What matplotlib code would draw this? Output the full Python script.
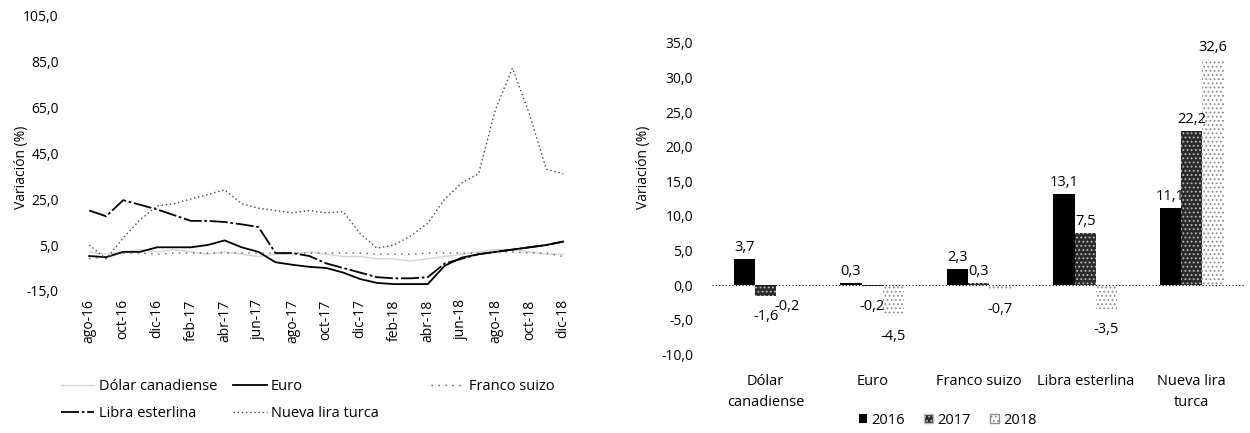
import matplotlib.pyplot as plt
from matplotlib.ticker import FuncFormatter
from matplotlib.patches import Patch

plt.rcParams['font.family'] = ['Open Sans', 'DejaVu Sans']
plt.rcParams['hatch.linewidth'] = 0.8

# --- left panel: monthly variation (%) ---
months = ["ago-16", "sep-16", "oct-16", "nov-16", "dic-16", "ene-17", "feb-17",
          "mar-17", "abr-17", "may-17", "jun-17", "jul-17", "ago-17", "sep-17",
          "oct-17", "nov-17", "dic-17", "ene-18", "feb-18", "mar-18", "abr-18",
          "may-18", "jun-18", "jul-18", "ago-18", "sep-18", "oct-18", "nov-18",
          "dic-18"]
dolar_canadiense = [2, 1, 2, 3, 2, 3, 2, 1, 2, 1, 0, 1, 1, 2, 1, 0, 0, -1, -1,
                    -2, -1, 0, 1, 2, 3, 3, 2, 1, 1]
euro = [0.2, -0.3, 2, 2, 4, 4, 4, 5, 7, 4, 2, -2.5, -3.6, -4.5, -5, -7, -9.8,
        -11.5, -12, -12, -12, -4, -0.5, 1, 2, 3, 4, 5, 6.5]
franco_suizo = [-1, 0, 1.5, 1.5, 1, 1.5, 1.5, 1.5, 1.5, 1.5, 1.5, 1.5, 1.5, 1.5,
                1.5, 1.5, 1.5, 1, 1, 1, 1.5, 1.5, 1.5, 1.5, 2, 2, 1.5, 1.5, 0]
libra_esterlina = [20, 17.5, 24.5, 22.5, 20.5, 18, 15.5, 15.5, 15, 14, 12.8, 1.5,
                   1.5, 0.2, -3, -5, -7, -9, -9.5, -9.5, -9, -3, -1, 1, 2, 3, 4,
                   5, 6.5]
nueva_lira_turca = [5, -1, 8, 16, 22, 23, 25, 27, 29, 23, 21, 20, 19, 20, 19,
                    19.5, 10, 3.6, 5, 9, 14.5, 25, 32, 36, 64, 82, 62, 38, 36]

# --- right panel: annual variation (%) ---
currencies = ["Dólar\ncanadiense", "Euro", "Franco suizo", "Libra esterlina",
              "Nueva lira\nturca"]
years = ["2016", "2017", "2018"]
var_2016 = [3.7, 0.3, 2.3, 13.1, 11.1]
var_2017 = [-1.6, -0.2, 0.3, 7.5, 22.2]
var_2018 = [-0.2, -4.5, -0.7, -3.5, 32.6]

comma = FuncFormatter(lambda v, _: f"{v:.1f}".replace(".", ","))

fig = plt.figure(figsize=(12.5, 4.33), dpi=100)

# left line chart
ax1 = fig.add_axes([0.066, 0.328, 0.39, 0.637])
x = list(range(len(months)))
l_dol, = ax1.plot(x, dolar_canadiense, color="#d4d4d4", lw=1.0)
l_eur, = ax1.plot(x, euro, color="black", lw=1.3)
l_fra, = ax1.plot(x, franco_suizo, color="#555555", lw=1.0, ls=(0, (1, 4)))
l_lib, = ax1.plot(x, libra_esterlina, color="black", lw=1.3,
                  ls=(0, (10, 1.5, 1.5, 1.5)))
l_lir, = ax1.plot(x, nueva_lira_turca, color="#444444", lw=1.0, ls=(0, (1, 2)))
ax1.set_xlim(-0.4, len(months) - 0.6)
ax1.set_ylim(-15, 105)
ax1.set_yticks([-15, 5, 25, 45, 65, 85, 105])
ax1.yaxis.set_major_formatter(comma)
ax1.set_xticks(x[::2])
ax1.set_xticklabels(months[::2], rotation=90, fontsize=10)
ax1.tick_params(axis="y", labelsize=10, length=0, pad=17)
ax1.tick_params(axis="x", length=0, pad=6)
for s in ax1.spines.values():
    s.set_visible(False)
ax1.set_ylabel("Variación (%)", fontsize=10)
ax1.yaxis.set_label_coords(-0.11, 0.45)

leg_kw = dict(loc="upper left", bbox_transform=fig.transFigure, frameon=False,
              fontsize=10.5, handlelength=2.3, handletextpad=0.3,
              labelspacing=0.8)
leg1 = fig.legend([l_dol, l_lib, l_eur, l_lir],
                  ["Dólar canadiense", "Libra esterlina", "Euro",
                   "Nueva lira turca"],
                  ncol=2, bbox_to_anchor=(0.038, 0.155), columnspacing=1.1,
                  **leg_kw)
fig.legend([l_fra], ["Franco suizo"], bbox_to_anchor=(0.334, 0.155), **leg_kw)

# right bar chart
ax2 = fig.add_axes([0.570, 0.182, 0.426, 0.719])
pos = list(range(len(currencies)))
w = 0.2
b16 = ax2.bar([p - w for p in pos], var_2016, w, color="black", lw=0)
b17 = ax2.bar(pos, var_2017, w, color="#2a2a2a", edgecolor="#bbbbbb",
              hatch="....", lw=0)
b18 = ax2.bar([p + w for p in pos], var_2018, w, color="white",
              edgecolor="#8a8a8a", hatch="....", lw=0)
for bars, vals in ((b16, var_2016), (b17, var_2017), (b18, var_2018)):
    for bar, v in zip(bars, vals):
        xc = bar.get_x() + bar.get_width() / 2
        ax2.annotate(f"{v:.1f}".replace(".", ","), (xc, v),
                     xytext=(0, 3 if v >= 0 else -9), textcoords="offset points",
                     ha="center", va="bottom" if v >= 0 else "top", fontsize=10.5)
ax2.axhline(0, color="black", lw=0.8, ls=(0, (1, 2)))
ax2.set_xlim(-0.5, len(currencies) - 0.5)
ax2.set_ylim(-10, 35)
ax2.set_yticks(range(-10, 40, 5))
ax2.yaxis.set_major_formatter(comma)
ax2.set_xticks(pos)
ax2.set_xticklabels(currencies, fontsize=10.5, linespacing=1.6)
ax2.tick_params(axis="y", labelsize=10, length=0, pad=14)
ax2.tick_params(axis="x", length=0, pad=14)
for s in ax2.spines.values():
    s.set_visible(False)
ax2.set_ylabel("Variación (%)", fontsize=10)
ax2.yaxis.set_label_coords(-0.115, 0.6)
fig.legend([Patch(facecolor="black"),
            Patch(facecolor="#2a2a2a", edgecolor="#bbbbbb", hatch="...."),
            Patch(facecolor="white", edgecolor="#8a8a8a", hatch="....")],
           years, ncol=3, loc="center", bbox_to_anchor=(0.758, 0.03),
           frameon=False, fontsize=10.5, handlelength=0.6, handleheight=0.6,
           handletextpad=0.3, columnspacing=1.3)

fig.savefig("out.png", dpi=100)
